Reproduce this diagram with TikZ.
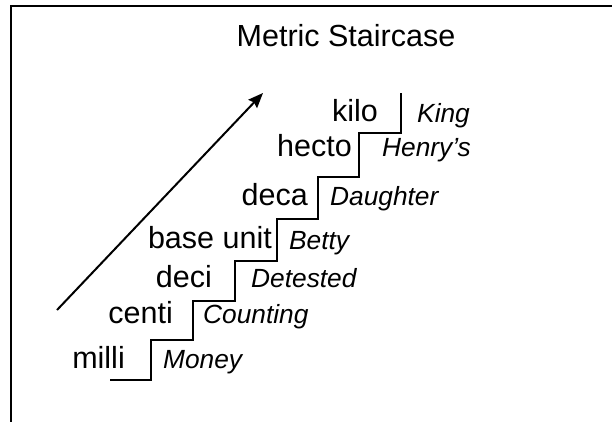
\documentclass[tikz,border=0pt]{standalone}
\usepackage{fontspec}
\setmainfont{Liberation Sans}
\usetikzlibrary{arrows.meta}
\begin{document}
\begin{tikzpicture}[x=1pt,y=-1pt,
  big/.style={inner sep=0pt,anchor=base east,font=\fontsize{30.5}{36}\selectfont},
  small/.style={inner sep=0pt,anchor=base west,font=\fontsize{26.3}{31}\selectfont\itshape},
  stair/.style={line width=1.3pt,line join=miter},
  frameline/.style={line width=2.2pt}]
\useasboundingbox (0,0) rectangle (612,422);
\begin{scope}
\clip (0,0) rectangle (612,422);
\draw[frameline] (620,6) -- (11,6) -- (11,430);
\end{scope}
\node[inner sep=0pt,anchor=base,font=\fontsize{30.5}{36}\selectfont] (title) at (346,47) {Metric Staircase};
% staircase
\draw[stair] (110,380) -- (151,380) -- (151,340) -- (193,340) -- (193,301) -- (235,301) -- (235,261) -- (277,261) -- (277,219) -- (318,219) -- (318,177) -- (359,177) -- (359,133) -- (401,133) -- (401,93);
% arrow
\coordinate (atail) at (57,310);
\coordinate (ahead) at (263,93);
\draw[line width=2pt,-{Stealth[length=15pt,width=12pt,inset=2pt]}] (atail) -- (ahead);
% labels
\node[big] (kilo) at (378,122) {kilo};
\node[small] (king) at (417,123) {King};
\node[big] (hecto) at (352,157) {hecto};
\node[small] (henry) at (382,157) {Henry’s};
\node[big] (deca) at (308,205) {deca};
\node[small] (daughter) at (330,205) {Daughter};
\node[big] (base) at (272,248) {base unit};
\node[small] (betty) at (289,249) {Betty};
\node[big] (deci) at (212,287) {deci};
\node[small] (detested) at (251,287) {Detested};
\node[big] (centi) at (173,323) {centi};
\node[small] (counting) at (203,323) {Counting};
\node[big] (milli) at (125,368) {milli};
\node[small] (money) at (163,368) {Money};
\end{tikzpicture}
\end{document}
